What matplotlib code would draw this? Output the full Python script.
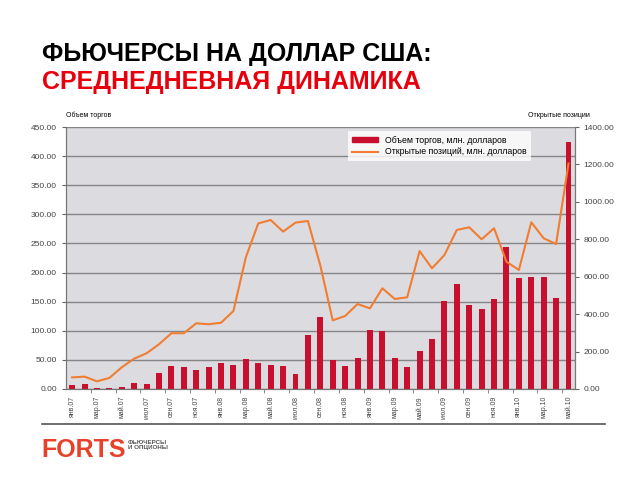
import numpy as np
import matplotlib.pyplot as plt
from matplotlib.patches import Patch
from matplotlib.lines import Line2D

plt.rcParams['font.family'] = ['Liberation Sans', 'DejaVu Sans']

months = ['янв', 'фев', 'мар', 'апр', 'май', 'июн',
          'июл', 'авг', 'сен', 'окт', 'ноя', 'дек']
years = ['07', '08', '09', '10']
periods = [m + '.' + y for y in years for m in months][:41]

volume = [7, 9, 2, 2, 4, 11, 9, 27, 39, 37, 33, 38, 45, 41, 51, 44, 42, 40,
          26, 93, 124, 49, 40, 53, 102, 100, 53, 37, 65, 86, 151, 181, 145,
          137, 155, 244, 191, 192, 192, 156, 425]
open_int = [62, 66, 41, 59, 116, 162, 191, 239, 298, 298, 351, 346, 354, 417,
            704, 885, 903, 841, 889, 898, 660, 367, 390, 454, 431, 538, 481,
            490, 737, 645, 716, 850, 864, 800, 859, 680, 636, 891, 805, 775,
            1205]

x = np.arange(len(periods))

fig = plt.figure(figsize=(6.4, 4.8), dpi=100)
ax = fig.add_axes([0.103, 0.1896, 0.795, 0.5458])
ax2 = ax.twinx()

ax.set_facecolor('#dcdce0')
ax.bar(x, volume, width=0.48, color='#c8102e', zorder=3)
ax2.plot(x, open_int, color='#f07d32', linewidth=1.5, zorder=4)

ax.set_xlim(-0.5, len(x) - 0.5)
ax.set_ylim(0, 450)
ax2.set_ylim(0, 1400)
ax.set_yticks(np.arange(0, 451, 50))
ax2.set_yticks(np.arange(0, 1401, 200))
ax.set_yticklabels(['%.2f' % v for v in np.arange(0, 451, 50)], fontsize=6, color='#444444')
ax2.set_yticklabels(['%.2f' % v for v in np.arange(0, 1401, 200)], fontsize=6, color='#444444')
ax.grid(axis='y', color='#858585', linewidth=1, zorder=0)
ax.set_axisbelow(True)

ax.set_xticks(x[::2])
ax.set_xticklabels(periods[::2], rotation=90, fontsize=5, color='#444444')
ax.set_xticks(x[1::2] + 0.5, minor=True)
ax.tick_params(axis='x', which='major', length=0, pad=5)
ax.tick_params(axis='x', which='minor', length=3, color='#777777')
ax.tick_params(axis='y', length=3, width=0.8, colors='#666666', labelcolor='#444444')
ax2.tick_params(axis='y', length=3, width=0.8, colors='#666666', labelcolor='#444444')

for a in (ax, ax2):
    a.spines['top'].set_visible(False)
    a.spines['left'].set_color('#777777')
    a.spines['right'].set_color('#777777')
    a.spines['bottom'].set_color('#777777')

ax.text(0.0, 1.03, 'Объем торгов', transform=ax.transAxes, fontsize=5, ha='left', va='bottom')
ax.text(1.03, 1.03, 'Открытые позиции', transform=ax.transAxes, fontsize=5, ha='right', va='bottom')

handles = [Patch(color='#c8102e'), Line2D([0], [0], color='#f07d32', linewidth=1.5)]
leg = ax.legend(handles, ['Объем торгов, млн. долларов', 'Открытые позиций, млн. долларов'],
                loc='upper left', bbox_to_anchor=(0.55, 0.99), fontsize=6.3,
                frameon=True, fancybox=False, edgecolor='white',
                handlelength=3, handleheight=0.5, borderpad=0.5, labelspacing=0.3,
                borderaxespad=0.2)
leg.get_frame().set_linewidth(0)
leg.set_zorder(10)

fig.text(0.066, 0.873, 'ФЬЮЧЕРСЫ НА ДОЛЛАР США:', fontsize=18, fontweight='bold', color='black')
fig.text(0.066, 0.815, 'СРЕДНЕДНЕВНАЯ ДИНАМИКА', fontsize=18, fontweight='bold', color='#e8000d')

fig.add_artist(Line2D([0.066, 0.945], [0.117, 0.117], color='#555555', linewidth=1.2))
fig.text(0.064, 0.048, 'FORTS', fontsize=18, fontweight='bold', color='#e8402a')
fig.text(0.2, 0.072, 'ФЬЮЧЕРСЫ\nИ ОПЦИОНЫ', fontsize=4.5, fontweight='bold', color='#555555',
         linespacing=1.0, va='center')

plt.savefig('out.png', dpi=100)
